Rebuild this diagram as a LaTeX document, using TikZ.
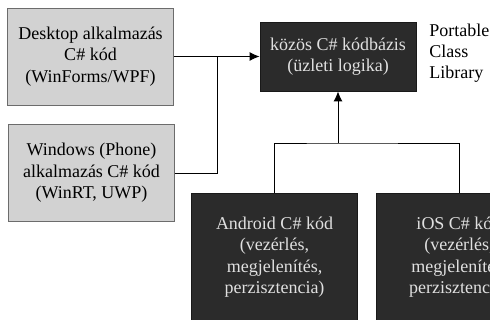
\documentclass[tikz,border=0pt]{standalone}
\usepackage{fontspec}
\setmainfont{Liberation Serif}
\usetikzlibrary{arrows.meta}

\begin{document}
\begin{tikzpicture}[x=1pt, y=-1pt, every node/.style={font=\fontsize{18}{21.5}\selectfont, align=center, inner sep=0pt}, line width=0.9pt,
	tip/.style={-{Latex[length=10pt, width=9pt]}},
	appbox/.style={draw=gray!85!black, fill=gray!35, text=black, minimum width=166pt, minimum height=97pt},
	libbox/.style={draw=black!90, fill=black!83, text=white!88!black}]
	\useasboundingbox (0,0) rectangle (490,320);
	\clip (0,0) rectangle (490,320);
	\node[appbox] (desktop) at (90.5,56.5) {Desktop alkalmazás\\C\# kód\\(WinForms/WPF)};
	\node[appbox] (windows) at (91.5,173) {Windows (Phone)\\alkalmazás C\# kód\\(WinRT, UWP)};
	\node[libbox, minimum width=156pt, minimum height=69pt] (common) at (338,56.5) {közös C\# kódbázis\\(üzleti logika)};
	\node[anchor=west, align=left, font=\fontsize{18}{21}\selectfont] (pcl) at (429,53) {Portable\\Class\\Library};
	\node[libbox, minimum width=166pt, minimum height=128pt] (android) at (274.5,257) {Android C\# kód\\(vezérlés,\\megjelenítés,\\perzisztencia)};
	\node[libbox, minimum width=166pt, minimum height=128pt] (ios) at (459,257) {iOS C\# kód\\(vezérlés,\\megjelenítés,\\perzisztencia)};
	\coordinate (join) at (217,56.5);
	\coordinate (fork) at (338,143);
	\draw[tip] (desktop.east) -- (common.west);
	\draw (windows.east) -| (join);
	\draw (android.north) |- (fork) -| (ios.north);
	\draw[tip] (fork) -- (common.south);
\end{tikzpicture}
\end{document}
